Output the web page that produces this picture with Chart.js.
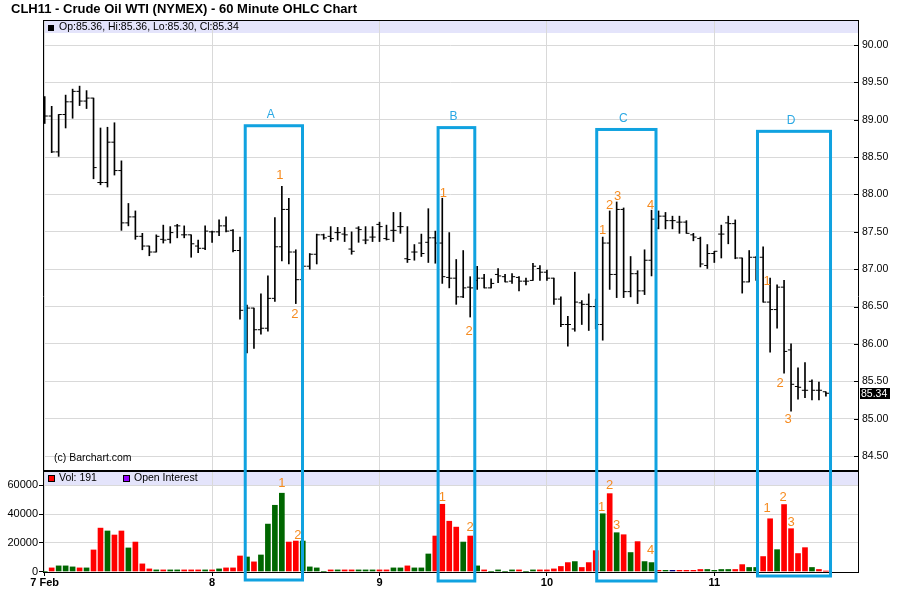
<!DOCTYPE html>
<html>
<head>
<meta charset="utf-8">
<title>CLH11 60 Minute OHLC</title>
<script src="https://cdn.jsdelivr.net/npm/chart.js@4.4.1/dist/chart.umd.min.js"></script>
<style>
  html, body { margin: 0; padding: 0; background: #fff; }
  #wrap { position: relative; width: 900px; height: 612px; }
  #ohlcChart { position: absolute; left: 0; top: 0; }
  #title { position: absolute; left: 11px; top: 1px; font: bold 13px "Liberation Sans", Arial, sans-serif; color: #000; line-height: 15px; }
</style>
</head>
<body>
<div id="wrap">
  <canvas id="ohlcChart" width="900" height="612"></canvas>
  <div id="title">CLH11 - Crude Oil WTI (NYMEX) - 60 Minute OHLC Chart</div>
</div>
<script>
// hourly bars, 7 Feb - 11 Feb (bar index = hour number)
const opens = [89.30,89.05,88.57,89.07,89.24,89.38,89.25,89.29,88.16,88.16,
  88.70,88.32,87.62,87.70,87.44,87.31,87.23,87.40,87.40,87.58,
  87.46,87.46,87.31,87.28,87.50,87.50,87.58,87.52,87.25,86.45,
  86.48,86.19,86.21,86.61,87.30,87.80,87.23,86.86,87.04,87.20,
  87.46,87.44,87.49,87.47,87.27,87.55,87.39,87.43,87.60,87.41,
  87.52,87.57,87.14,87.23,87.35,87.36,87.42,87.35,86.89,86.88,
  86.63,86.76,86.85,86.88,86.75,86.93,86.90,86.84,86.89,86.84,
  86.85,87.01,86.96,86.88,86.60,86.26,86.20,86.55,86.53,86.50,
  86.26,87.35,86.93,87.80,86.70,86.94,86.71,87.12,87.55,87.71,
  87.65,87.63,87.63,87.46,87.41,87.05,87.21,87.47,87.62,87.61,
  87.15,86.83,87.16,87.16,86.56,86.46,86.76,85.92,85.43,85.38,
  85.50,85.38,85.36];
const highs = [89.31,89.18,89.07,89.33,89.41,89.45,89.39,89.29,88.89,88.90,
  88.96,88.45,87.88,87.78,87.48,87.31,87.46,87.59,87.57,87.60,
  87.58,87.46,87.39,87.58,87.51,87.66,87.70,87.53,87.43,86.52,
  86.48,86.67,86.91,87.69,88.11,87.95,87.26,87.10,87.21,87.47,
  87.47,87.57,87.56,87.56,87.50,87.57,87.57,87.57,87.63,87.59,
  87.76,87.76,87.57,87.33,87.47,87.81,87.51,87.95,87.49,87.13,
  87.25,86.90,87.04,86.93,86.87,87.01,86.93,86.94,86.90,86.88,
  87.08,87.05,86.99,86.88,86.63,86.37,86.96,86.58,86.67,86.60,
  87.43,87.78,87.90,87.82,87.17,86.98,87.26,87.79,87.78,87.76,
  87.71,87.71,87.65,87.48,87.43,87.33,87.24,87.59,87.71,87.66,
  87.15,87.25,87.17,87.30,86.88,86.79,86.85,86.00,85.68,85.75,
  85.52,85.49,85.36];
const lows = [88.95,88.56,88.51,88.89,89.02,89.19,89.15,88.21,88.13,88.10,
  88.26,87.52,87.58,87.40,87.26,87.18,87.23,87.35,87.35,87.42,
  87.42,87.16,87.22,87.26,87.36,87.45,87.50,87.23,86.33,85.88,
  85.94,86.13,86.17,86.57,87.11,87.07,86.54,86.80,87.00,87.07,
  87.40,87.37,87.39,87.37,87.20,87.36,87.34,87.37,87.37,87.39,
  87.37,87.48,87.09,87.12,87.17,87.09,87.08,86.81,86.75,86.53,
  86.62,86.36,86.73,86.75,86.75,86.82,86.83,86.81,86.71,86.79,
  86.85,86.85,86.85,86.53,86.23,85.97,86.17,86.26,86.18,86.20,
  86.05,86.73,86.62,86.62,86.63,86.54,86.66,86.91,87.54,87.54,
  87.54,87.48,87.48,87.38,87.03,87.01,87.09,87.15,87.34,87.14,
  86.68,86.83,86.85,86.56,85.89,86.21,85.61,85.10,85.26,85.28,
  85.25,85.25,85.30];
const closes = [89.05,88.57,89.07,89.24,89.38,89.25,89.29,88.36,88.16,88.70,
  88.32,87.62,87.70,87.44,87.31,87.23,87.44,87.39,87.49,87.58,
  87.46,87.34,87.28,87.51,87.50,87.58,87.51,87.25,86.45,86.48,
  86.19,86.21,86.61,87.30,87.80,87.23,86.86,87.04,87.20,87.46,
  87.42,87.41,87.49,87.46,87.24,87.53,87.39,87.43,87.57,87.40,
  87.52,87.57,87.13,87.23,87.21,87.42,87.35,86.90,86.88,86.63,
  86.75,86.75,86.88,86.75,86.81,86.91,86.83,86.90,86.84,86.84,
  87.04,86.96,86.88,86.60,86.26,86.26,86.56,86.53,86.50,86.26,
  87.35,86.93,87.80,86.70,86.94,86.71,87.12,87.67,87.71,87.65,
  87.65,87.63,87.48,87.43,87.07,87.21,87.24,87.47,87.61,87.15,
  86.83,87.16,87.16,86.56,86.46,86.76,85.90,85.46,85.42,85.38,
  85.38,85.38,85.34];
const volumes = [0,2500,3900,3900,3200,2500,2500,15000,30200,28200,
  25400,28200,16400,20500,5300,1800,1100,1100,1100,1100,
  1100,1100,1100,1100,1100,1800,2500,2500,10800,10100,
  6700,11500,33000,46100,54500,20500,21200,21200,3200,2500,
  0,1100,1100,1100,1100,1100,1100,1100,1100,1100,
  2500,2500,3900,2500,2500,12200,24700,46800,35000,30900,
  20500,24700,3900,1100,0,1100,0,1100,1100,0,
  1100,1100,1100,1800,3500,6200,6900,2800,6200,14500,
  40200,54200,27000,25600,13200,20800,6900,6200,800,800,
  800,800,800,800,1400,1400,800,1400,1400,1400,
  4800,2800,2800,10400,36700,15200,46600,29800,12500,16600,
  2800,1400,191];
// u = up (green), d = down (red), f = unchanged (navy)
const volDir = ['u','d','u','u','u','d','u','d','d','u',
  'd','d','u','d','d','d','u','d','u','u',
  'd','d','d','u','d','u','d','d','d','u',
  'd','u','u','u','u','d','d','u','u','u',
  'u','d','u','d','d','u','u','u','d','d',
  'u','u','d','u','u','u','d','d','d','d',
  'u','d','u','d','u','u','u','u','d','u',
  'u','d','d','d','d','d','u','d','d','d',
  'u','d','u','d','u','d','u','u','d','u',
  'f','d','d','d','d','u','u','u','u','d',
  'd','u','u','d','d','u','d','d','d','d',
  'u','d','d'];

const dayTicks = [0, 24, 48, 72, 96];
const dayLabels = ['7 Feb', '8', '9', '10', '11'];
const priceTicks = [84.5, 85, 85.5, 86, 86.5, 87, 87.5, 88, 88.5, 89, 89.5, 90];
const volTicks = [0, 20000, 40000, 60000];
const volPanelMax = 70000;

// highlighted sessions
const boxes = [
  {tag: 'A', from: 28.75, to: 36.96, top: 88.92, drop: 8},
  {tag: 'B', from: 56.4, to: 61.66, top: 88.895, drop: 9},
  {tag: 'C', from: 79.14, to: 87.64, top: 88.87, drop: 9},
  {tag: 'D', from: 102.19, to: 112.66, top: 88.845, drop: 4}
];
// [text, bar, anchor, dx, dy]
const priceNotes = [
  ['1', 34, 'hi', -2, -11], ['2', 36, 'lo', -1, 11],
  ['1', 57, 'hi', 1, -5], ['2', 61, 'lo', -1, 14],
  ['1', 80, 'hi', 0, -7], ['2', 81, 'hi', 0, -6], ['3', 82, 'hi', 1, -6], ['4', 87, 'hi', -1, -5],
  ['1', 104, 'hi', -3, 3], ['2', 106, 'lo', -4, 10], ['3', 107, 'lo', -3, 8]
];
const volNotes = [
  ['1', 34, 0, -10], ['2', 36, 2, -6],
  ['1', 57, 0, -7], ['2', 61, 0, -9],
  ['1', 80, -1, -6], ['2', 81, 0, -8], ['3', 82, 0, -7], ['4', 87, -1, -12],
  ['1', 104, -3, -10], ['2', 106, -1, -7], ['3', 107, 0, -6]
];

const FONT = '"Liberation Sans", Arial, sans-serif';
const dirColor = {u: '#006600', d: '#ff0000', f: '#000080'};
const tickShift = 0.22;
const last = opens.length - 1;

const decor = {
  id: 'decor',
  beforeDraw(chart) {
    const {ctx, chartArea: a} = chart;
    const sep = Math.round(chart.scales.yv.getPixelForValue(volPanelMax));
    ctx.save();
    ctx.fillStyle = '#fff';
    ctx.fillRect(0, 0, chart.width, chart.height);
    ctx.fillStyle = '#e4e4fb';
    ctx.fillRect(a.left, a.top, a.width, 13);
    ctx.fillRect(a.left, sep + 1, a.width, 13);
    ctx.restore();
  },
  afterDraw(chart) {
    const {ctx, chartArea: a} = chart;
    const xs = chart.scales.x, ys = chart.scales.y, vs = chart.scales.yv;
    const sep = Math.round(vs.getPixelForValue(volPanelMax));
    ctx.save();
    ctx.fillStyle = '#000';
    ctx.fillRect(a.left, a.top, a.width, 1);
    ctx.fillRect(a.left, sep - 1, a.width, 2);

    // price axis inner ticks
    priceTicks.forEach(p => {
      ctx.fillRect(a.right - 4, Math.round(ys.getPixelForValue(p)), 4, 1);
    });

    // header band texts
    ctx.font = '10.5px ' + FONT;
    ctx.textBaseline = 'middle';
    ctx.textAlign = 'left';
    ctx.fillRect(48, a.top + 5, 6, 6);
    ctx.fillText('Op:' + opens[last].toFixed(2) + ', Hi:' + highs[last].toFixed(2) +
      ', Lo:' + lows[last].toFixed(2) + ', Cl:' + closes[last].toFixed(2), 59, a.top + 7.5);

    const vb = sep + 7.5;
    ctx.fillStyle = '#ff0000';
    ctx.fillRect(48, vb - 3.5, 7, 7);
    ctx.strokeStyle = '#000';
    ctx.lineWidth = 1;
    ctx.strokeRect(48.5, vb - 3, 6, 6);
    ctx.fillStyle = '#9400ff';
    ctx.fillRect(123, vb - 3.5, 7, 7);
    ctx.strokeRect(123.5, vb - 3, 6, 6);
    ctx.fillStyle = '#000';
    ctx.fillText('Vol: ' + volumes[last], 59, vb);
    ctx.fillText('Open Interest', 134, vb);

    ctx.fillText('(c) Barchart.com', 54, sep - 13);

    // last price tag
    const ly = ys.getPixelForValue(closes[last]);
    ctx.fillRect(a.right + 2, Math.round(ly) - 5, 30, 11);
    ctx.fillStyle = '#fff';
    ctx.fillText(closes[last].toFixed(2), a.right + 3, ly + 0.5);

    // session boxes
    ctx.strokeStyle = '#10a2e0';
    ctx.lineWidth = 3;
    ctx.font = '12px ' + FONT;
    ctx.textAlign = 'center';
    boxes.forEach(b => {
      const x1 = xs.getPixelForValue(b.from), x2 = xs.getPixelForValue(b.to);
      const y1 = ys.getPixelForValue(b.top), y2 = a.bottom + b.drop;
      ctx.strokeRect(x1, y1, x2 - x1, y2 - y1);
      ctx.fillStyle = '#2aa8e4';
      ctx.fillText(b.tag, (x1 + x2) / 2 - 3, y1 - 11);
    });

    // numbered markers
    ctx.font = '13px ' + FONT;
    ctx.fillStyle = '#f68b1f';
    priceNotes.forEach(([t, i, anchor, dx, dy]) => {
      const v = anchor === 'hi' ? highs[i] : lows[i];
      ctx.fillText(t, xs.getPixelForValue(i) + dx, ys.getPixelForValue(v) + dy);
    });
    volNotes.forEach(([t, i, dx, dy]) => {
      ctx.fillText(t, xs.getPixelForValue(i) + dx, vs.getPixelForValue(volumes[i]) + dy);
    });
    ctx.restore();
  }
};

const ctx = document.getElementById('ohlcChart');
new Chart(ctx, {
  type: 'bar',
  data: {
    datasets: [
      {
        label: 'High-Low',
        data: highs.map((h, i) => ({x: i, y: [lows[i], h]})),
        backgroundColor: '#000',
        barThickness: 1,
        grouped: false,
        yAxisID: 'y'
      },
      {
        type: 'line',
        label: 'Open',
        data: opens.map((o, i) => ({x: i - tickShift, y: o})),
        showLine: false,
        pointStyle: 'line',
        pointRadius: 1.6,
        pointHoverRadius: 1.6,
        pointBorderWidth: 1,
        pointBorderColor: '#000',
        yAxisID: 'y'
      },
      {
        type: 'line',
        label: 'Close',
        data: closes.map((c, i) => ({x: i + tickShift, y: c})),
        showLine: false,
        pointStyle: 'line',
        pointRadius: 1.6,
        pointHoverRadius: 1.6,
        pointBorderWidth: 1,
        pointBorderColor: '#000',
        yAxisID: 'y'
      },
      {
        label: 'Volume',
        data: volumes.map((v, i) => ({x: i, y: v})),
        backgroundColor: volDir.map(d => dirColor[d]),
        barThickness: 5,
        grouped: false,
        yAxisID: 'yv'
      }
    ]
  },
  options: {
    responsive: false,
    animation: false,
    layout: {padding: {top: 20}},
    plugins: {legend: {display: false}, tooltip: {enabled: false}},
    scales: {
      x: {
        type: 'linear',
        min: -0.244,
        max: 116.6,
        offset: false,
        afterBuildTicks: s => { s.ticks = dayTicks.map(v => ({value: v})); },
        afterFit: s => { s.height = 40; },
        ticks: {
          autoSkip: false, maxRotation: 0, padding: 0, color: '#000',
          font: {family: FONT, size: 11, weight: 'bold'},
          callback: (v, idx) => dayLabels[idx]
        },
        grid: {color: '#d9d9d9', offset: false, tickColor: '#000', tickLength: 4},
        border: {color: '#000'}
      },
      y: {
        position: 'right',
        min: 82.948,
        max: 90.335,
        afterBuildTicks: s => { s.ticks = priceTicks.map(v => ({value: v})); },
        afterFit: s => { s.width = 42; },
        ticks: {
          padding: 4, color: '#000',
          font: {family: FONT, size: 10.5},
          callback: v => v.toFixed(2)
        },
        grid: {color: '#d9d9d9', drawTicks: false},
        border: {color: '#000'}
      },
      yv: {
        position: 'left',
        min: -350,
        max: 383900,
        afterBuildTicks: s => { s.ticks = volTicks.map(v => ({value: v})); },
        afterFit: s => { s.width = 43; },
        ticks: {
          padding: 1, color: '#000',
          font: {family: FONT, size: 11},
          callback: v => String(v)
        },
        grid: {
          color: c => (c.tick && c.tick.value === 0 ? 'rgba(0,0,0,0)' : '#d9d9d9'),
          tickColor: '#000', tickLength: 4
        },
        border: {color: '#000'}
      }
    }
  },
  plugins: [decor]
});
</script>
</body>
</html>
